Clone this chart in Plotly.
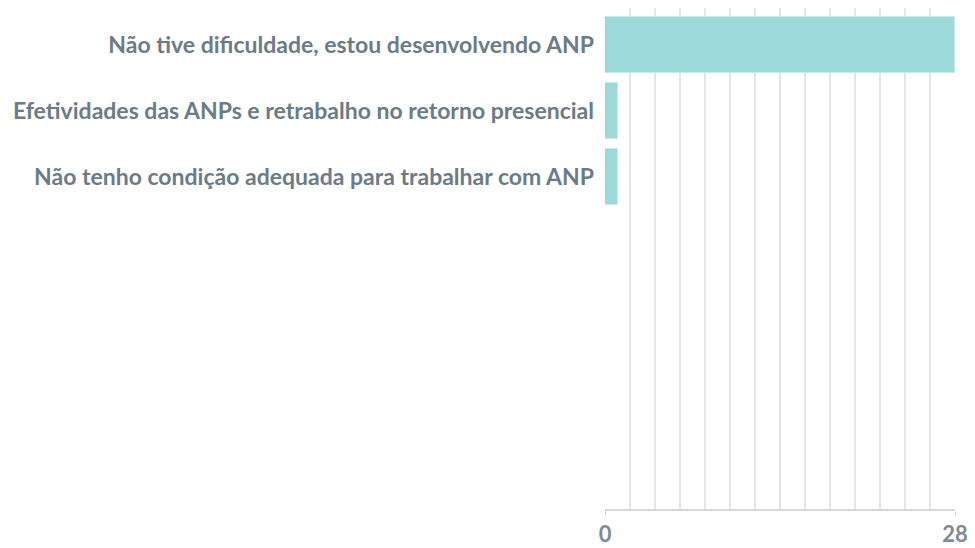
import plotly.graph_objects as go

categories = [
    "Não tive dificuldade, estou desenvolvendo ANP",
    "Efetividades das ANPs e retrabalho no retorno presencial",
    "Não tenho condição adequada para trabalhar com ANP",
]
counts = [28, 1, 1]
x_ticks = [0, 28]

label_color = "#6b7b88"
grid_color = "#e3e6e9"

fig = go.Figure(
    go.Bar(
        x=counts,
        y=categories,
        orientation="h",
        width=0.85,
        marker=dict(color="#9bdad9", line=dict(color="#c4ecec", width=1)),
        hoverinfo="x+y",
    )
)

fig.update_layout(
    width=975,
    height=548,
    margin=dict(l=605, r=20, t=8, b=39),
    paper_bgcolor="white",
    plot_bgcolor="white",
    showlegend=False,
    bargap=0,
)

fig.update_xaxes(
    automargin=False,
    range=[0, 28],
    tickvals=x_ticks,
    ticktext=[str(v) for v in x_ticks],
    showgrid=True,
    gridcolor=grid_color,
    gridwidth=1.5,
    minor=dict(dtick=2, tick0=0, showgrid=True, gridcolor=grid_color, gridwidth=1.5),
    showline=True,
    linecolor="#d3d8dd",
    linewidth=1.5,
    ticks="outside",
    ticklen=5,
    tickcolor="#d3d8dd",
    ticklabelstandoff=0,
    tickfont=dict(family="Lato", size=22, weight="bold", color="#7b8b97"),
    zeroline=False,
    fixedrange=True,
)

fig.update_yaxes(
    automargin=False,
    categoryorder="array",
    categoryarray=categories,
    range=[7.03, -0.56],
    showgrid=False,
    showline=False,
    ticks="",
    ticklabelstandoff=10,
    tickfont=dict(family="Lato", size=23, weight="bold", color=label_color),
    fixedrange=True,
)

fig.write_html("out.html")
